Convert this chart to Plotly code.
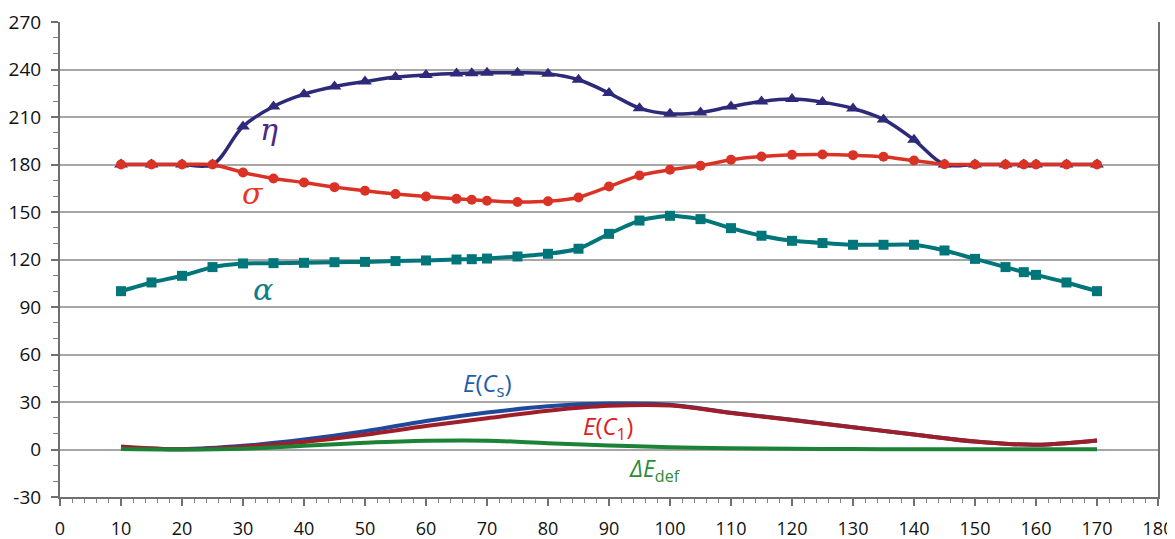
import plotly.graph_objects as go

# ---- data ----
angle = [10, 15, 20, 25, 30, 35, 40, 45, 50, 55, 60, 65, 67.5, 70, 75, 80, 85, 90, 95,
         100, 105, 110, 115, 120, 125, 130, 135, 140, 145, 150, 155, 158, 160, 165, 170]
eta = [180, 180, 180, 180, 204, 216.6, 224.4, 229.3, 232.4, 235.2, 236.6, 237.5, 237.7, 237.9,
       237.9, 237.3, 233.5, 225.1, 215.6, 212, 212.9, 216.6, 219.8, 221.3, 219.4, 215.4, 208.5,
       195.6, 180, 180, 180, 180, 180, 180, 180]
sigma = [180, 180, 180, 180, 175, 171.2, 168.6, 165.7, 163.4, 161.3, 159.8, 158.3, 157.7, 157.1,
         156.3, 156.8, 159.2, 166.1, 173.1, 176.7, 179.2, 183, 185, 186.1, 186.3, 185.9, 184.9,
         182.5, 180.2, 180, 180, 180, 180, 180, 180]
alpha = [100, 105.5, 109.7, 115.2, 117.5, 117.7, 117.9, 118.3, 118.5, 119, 119.4, 120, 120.2,
         120.6, 121.9, 123.6, 126.8, 136.2, 144.6, 147.6, 145.5, 139.8, 135, 131.8, 130.4, 129.3,
         129.3, 129.3, 125.7, 120.4, 115.2, 112, 110.3, 105.5, 100]

angle_e = [10, 20, 30, 40, 50, 60, 70, 80, 90, 100, 110, 120, 130, 140, 150, 160, 170]
E_Cs = [1.5, 0.2, 2.3, 6.3, 11.5, 18.0, 23.3, 27.3, 29.0, 28.3, 23.2, 18.8, 14.0, 9.5, 5.0, 3.0, 5.7]
E_C1 = [1.9, 0.1, 1.8, 4.8, 9.3, 14.8, 19.8, 24.5, 27.6, 27.8, 23.0, 18.6, 14.0, 9.5, 5.0, 3.0, 5.7]
dE_def = [0.3, 0.0, 0.5, 2.3, 4.2, 5.5, 5.6, 4.0, 2.5, 1.5, 0.8, 0.5, 0.3, 0.2, 0.2, 0.2, 0.2]

x_ticks = list(range(0, 181, 10))
y_ticks = list(range(-30, 271, 30))

C_ETA = "#2E2A7A"
C_SIG = "#DA3224"
C_ALP = "#00767A"
C_ECS = "#1F4A9C"
C_EC1 = "#A01E2A"
C_DEF = "#1B8236"

fig = go.Figure()

sm = 1.0
fig.add_trace(go.Scatter(x=angle_e, y=E_Cs, mode="lines", line=dict(color=C_ECS, width=4, shape="spline", smoothing=sm)))
fig.add_trace(go.Scatter(x=angle_e, y=E_C1, mode="lines", line=dict(color=C_EC1, width=4, shape="spline", smoothing=sm)))
fig.add_trace(go.Scatter(x=angle_e, y=dE_def, mode="lines", line=dict(color=C_DEF, width=4, shape="spline", smoothing=sm)))

fig.add_trace(go.Scatter(x=angle, y=alpha, mode="lines+markers",
                         line=dict(color=C_ALP, width=4, shape="spline", smoothing=0.6),
                         marker=dict(symbol="square", size=10, color=C_ALP)))
fig.add_trace(go.Scatter(x=angle, y=eta, mode="lines+markers",
                         line=dict(color=C_ETA, width=3.5, shape="spline", smoothing=1.0),
                         marker=dict(symbol="triangle-up", size=12, color=C_ETA)))
fig.add_trace(go.Scatter(x=angle, y=sigma, mode="lines+markers",
                         line=dict(color=C_SIG, width=3.5, shape="spline", smoothing=0.6),
                         marker=dict(symbol="circle", size=10, color=C_SIG)))

greek_font = "DejaVu Serif"
labels = [
    (34.2, 202, "<i>η</i>", "#4A2A86", 30, greek_font),
    (31.6, 162, "<i>σ</i>", "#E8371F", 30, greek_font),
    (33.2, 101, "<i>α</i>", "#0F7E86", 30, greek_font),
    (70.0, 41.5, "<i>E</i>(<i>C</i><sub>s</sub>)", "#1F5DAA", 24, "Open Sans"),
    (89.8, 14.0, "<i>E</i>(<i>C</i><sub>1</sub>)", "#E0201C", 24, "Open Sans"),
    (97.5, -12.5, "<i>ΔE</i><sub>def</sub>", "#2E8B3A", 23, "Open Sans"),
]
for x, y, t, c, s, f in labels:
    fig.add_annotation(x=x, y=y, text=t, showarrow=False, xref="x", yref="y",
                       font=dict(color=c, size=s, family=f))

x_tick_font = dict(family="Open Sans", size=18, color="#111111")
y_tick_font = dict(family="Open Sans", size=19, color="#111111")

# page body has an 8px default margin, so the figure is sized/offset accordingly
fig.update_layout(
    width=1167, height=531,
    margin=dict(l=52, r=17, t=14, b=42),
    paper_bgcolor="white", plot_bgcolor="white",
    showlegend=False,
    xaxis=dict(range=[0, 180], tickvals=x_ticks, ticktext=[str(v) for v in x_ticks],
               automargin=False, ticklabeloverflow="allow",
               showgrid=False, zeroline=False, showline=True, linecolor="#707070", linewidth=2,
               ticks="outside", ticklen=7, tickwidth=1.5, tickcolor="#707070",
               minor=dict(dtick=2, ticks="outside", ticklen=4, tickwidth=1, tickcolor="#808080", showgrid=False),
               tickfont=x_tick_font, ticklabelstandoff=7),
    yaxis=dict(range=[-30, 270], tickvals=y_ticks, ticktext=[str(v) for v in y_ticks],
               automargin=False, ticklabeloverflow="allow",
               showgrid=True, gridcolor="#A6A6A6", gridwidth=1.5, zeroline=False,
               showline=True, linecolor="#707070", linewidth=2, mirror=True,
               ticks="outside", ticklen=7, tickwidth=1.5, tickcolor="#707070",
               minor=dict(dtick=10, ticks="outside", ticklen=5, tickwidth=1, tickcolor="#808080", showgrid=False),
               tickfont=y_tick_font, ticklabelstandoff=6),
)

fig.write_html("out.html")
